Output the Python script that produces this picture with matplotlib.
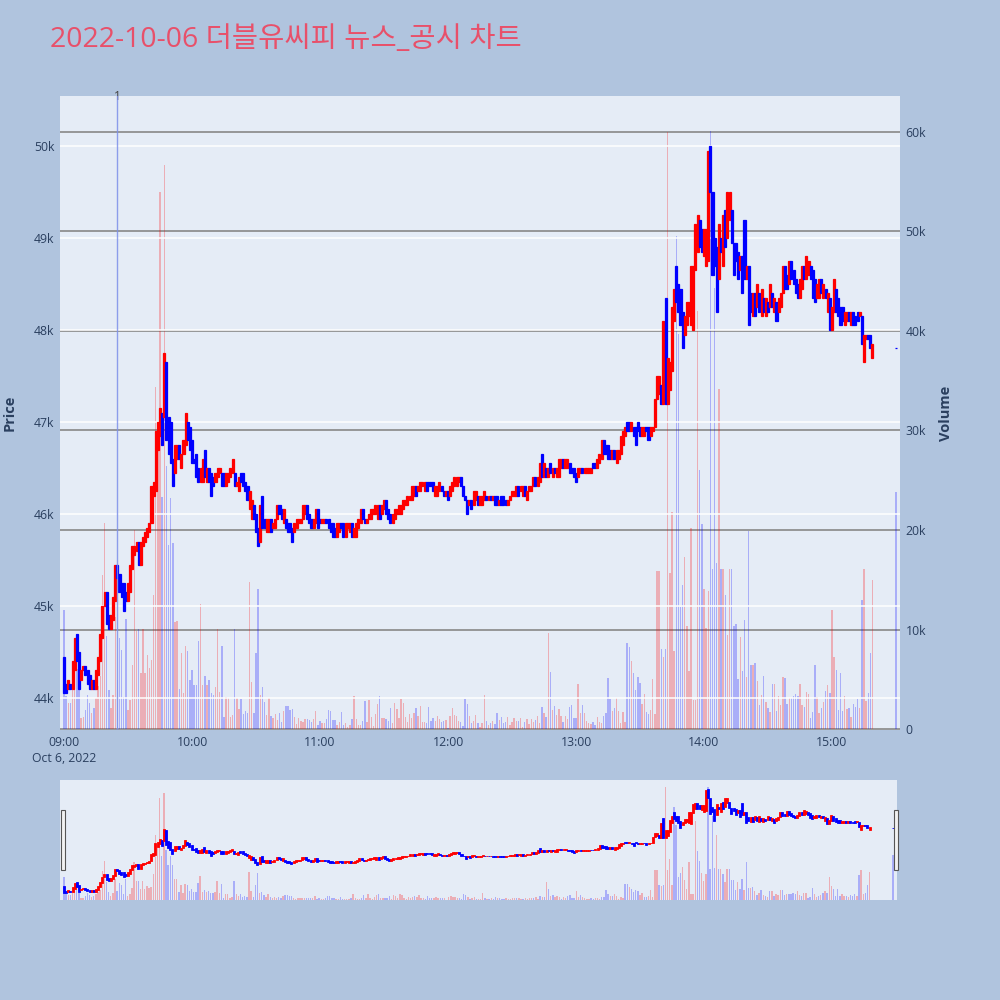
import numpy as np
import matplotlib
matplotlib.use("Agg")
import matplotlib.pyplot as plt
from matplotlib.patches import Rectangle

TITLE = "2022-10-06 더블유씨피 뉴스_공시 차트"

# minutes after 09:00; the last entry is the 15:30 closing auction
minutes = list(range(380)) + [390]

time_ticks = [0, 60, 120, 180, 240, 300, 360]
time_labels = ["09:00\nOct 6, 2022", "10:00", "11:00", "12:00", "13:00", "14:00", "15:00"]
price_ticks = [44000, 45000, 46000, 47000, 48000, 49000, 50000]
price_labels = ["44k", "45k", "46k", "47k", "48k", "49k", "50k"]
volume_ticks = [0, 10000, 20000, 30000, 40000, 50000, 60000]
volume_labels = ["0", "10k", "20k", "30k", "40k", "50k", "60k"]

news_minutes = [25]
news_labels = ["1"]

opens = [
    # 09:00
    44450, 44150, 44100, 44150, 44100, 44300, 44700, 44500, 44200, 44300,
    44350, 44300, 44250, 44100, 44200, 44100, 44250, 44400, 44650, 45000,
    45150, 44900, 44750, 44850, 45050, 45450, 45350, 45250, 45250, 45150,
    45050, 45150, 45400, 45550, 45600, 45700, 45450, 45650, 45700, 45750,
    45800, 45900, 46200, 46250, 46700, 46850, 47100, 47050, 47650, 47050,
    47000, 46600, 46450, 46600, 46750, 46500, 46650, 46750, 47000, 46950,
    # 10:00
    46800, 46600, 46650, 46500, 46350, 46350, 46700, 46350, 46500, 46450,
    46400, 46350, 46400, 46450, 46450, 46450, 46300, 46350, 46400, 46450,
    46450, 46300, 46250, 46450, 46450, 46350, 46300, 46050, 45950, 46100,
    46000, 45850, 45700, 46200, 45950, 45800, 45800, 45950, 45850, 45850,
    45950, 46100, 46050, 45900, 45950, 45900, 45900, 45850, 45800, 45850,
    45900, 45900, 45950, 46000, 46100, 46000, 45950, 45850, 45900, 46050,
    # 11:00
    45950, 45900, 45900, 45950, 45950, 45900, 45900, 45850, 45750, 45800,
    45900, 45900, 45750, 45850, 45800, 45900, 45750, 45750, 45850, 45900,
    46050, 45950, 45900, 45950, 45950, 46000, 46000, 45950, 46100, 46000,
    46050, 46150, 46050, 46000, 45900, 45950, 46000, 46000, 46000, 46050,
    46100, 46100, 46150, 46150, 46200, 46300, 46250, 46250, 46300, 46250,
    46350, 46350, 46350, 46350, 46200, 46200, 46250, 46300, 46250, 46200,
    # 12:00
    46250, 46200, 46250, 46300, 46300, 46350, 46400, 46300, 46200, 46150,
    46100, 46150, 46100, 46150, 46200, 46100, 46100, 46150, 46200, 46150,
    46200, 46150, 46200, 46200, 46100, 46200, 46200, 46150, 46100, 46150,
    46200, 46200, 46200, 46300, 46250, 46200, 46300, 46150, 46250, 46250,
    46300, 46400, 46300, 46350, 46650, 46400, 46500, 46400, 46550, 46400,
    46500, 46400, 46400, 46500, 46600, 46500, 46500, 46550, 46500, 46500,
    # 13:00
    46450, 46400, 46450, 46500, 46450, 46450, 46450, 46450, 46550, 46550,
    46500, 46550, 46600, 46800, 46750, 46750, 46700, 46600, 46700, 46550,
    46600, 46650, 46750, 46850, 47000, 47000, 46900, 46950, 46950, 47000,
    46950, 46850, 46850, 46950, 46950, 46850, 46900, 46950, 47250, 47300,
    47400, 47200, 48350, 47200, 47350, 47550, 48100, 48700, 48500, 48450,
    48200, 47950, 48050, 48150, 48050, 48000, 48650, 48850, 49200, 49100,
    # 14:00
    48800, 48700, 48750, 50000, 49500, 49000, 48900, 48550, 49000, 48700,
    49300, 49000, 49200, 49300, 48950, 48950, 48850, 48650, 48800, 49200,
    48550, 48700, 48400, 48150, 48400, 48250, 48400, 48150, 48350, 48150,
    48300, 48250, 48400, 48200, 48300, 48200, 48250, 48400, 48700, 48600,
    48500, 48750, 48650, 48550, 48500, 48350, 48450, 48700, 48550, 48600,
    48700, 48650, 48550, 48350, 48350, 48550, 48350, 48450, 48200, 48350,
    # 15:00
    48000, 48200, 48450, 48350, 48250, 48250, 48050, 48100, 48200, 48050,
    48200, 48150, 48200, 48150, 48150, 47650, 47900, 47950, 47950, 47700,
    # 15:30 auction
    47800,
]

closes = [
    # 09:00
    44050, 44050, 44200, 44100, 44400, 44650, 44400, 44100, 44300, 44350,
    44250, 44150, 44100, 44200, 44100, 44300, 44450, 44700, 45000, 45150,
    44800, 44750, 44900, 45100, 45450, 45300, 45150, 45100, 44950, 45050,
    45250, 45450, 45650, 45650, 45700, 45450, 45700, 45750, 45800, 45850,
    45900, 46300, 46350, 46900, 47000, 47150, 46750, 47750, 46800, 46650,
    46550, 46300, 46750, 46750, 46600, 46650, 46800, 47100, 46800, 46700,
    # 10:00
    46550, 46550, 46400, 46350, 46500, 46600, 46400, 46500, 46350, 46200,
    46300, 46450, 46500, 46500, 46300, 46300, 46450, 46450, 46500, 46600,
    46300, 46350, 46400, 46350, 46300, 46250, 46150, 46250, 46150, 45950,
    45800, 45650, 46100, 45850, 45850, 45950, 45950, 45800, 45900, 45950,
    46100, 46000, 45950, 46050, 45850, 45800, 45800, 45700, 45900, 45950,
    45950, 45950, 46100, 46100, 45950, 45900, 45850, 45950, 46050, 45850,
    # 11:00
    45900, 45950, 45950, 45900, 45850, 45800, 45750, 45750, 45900, 45900,
    45850, 45750, 45900, 45900, 45900, 45750, 45850, 45900, 45950, 46050,
    45950, 45900, 45950, 46000, 46050, 46050, 46100, 46100, 45950, 46100,
    46150, 46000, 45950, 45900, 46000, 46050, 46050, 46100, 46100, 46150,
    46150, 46200, 46200, 46300, 46300, 46200, 46300, 46350, 46350, 46350,
    46250, 46300, 46300, 46250, 46300, 46300, 46350, 46250, 46200, 46250,
    # 12:00
    46150, 46300, 46350, 46400, 46400, 46400, 46300, 46200, 46150, 46000,
    46150, 46050, 46250, 46250, 46100, 46200, 46200, 46250, 46150, 46200,
    46150, 46200, 46100, 46100, 46150, 46100, 46100, 46100, 46150, 46200,
    46250, 46250, 46300, 46200, 46300, 46300, 46200, 46250, 46300, 46300,
    46400, 46300, 46400, 46550, 46400, 46550, 46400, 46500, 46450, 46500,
    46450, 46500, 46600, 46600, 46500, 46600, 46600, 46450, 46450, 46400,
    # 13:00
    46350, 46500, 46500, 46450, 46500, 46500, 46500, 46500, 46500, 46500,
    46600, 46650, 46800, 46650, 46650, 46600, 46600, 46700, 46600, 46700,
    46700, 46850, 46900, 46950, 46900, 46900, 47000, 46850, 46750, 46900,
    46850, 46950, 46950, 46900, 46800, 46950, 46950, 47250, 47500, 47500,
    47200, 48100, 47200, 47700, 47650, 48250, 48450, 48300, 48200, 48050,
    47800, 48150, 48300, 48300, 48700, 48700, 49150, 49250, 48900, 48850,
    # 14:00
    49100, 49100, 49950, 49500, 48600, 48700, 48200, 49150, 48850, 49250,
    48900, 49500, 49500, 48950, 48600, 48750, 48550, 48800, 48400, 48550,
    48700, 48050, 48200, 48400, 48150, 48500, 48200, 48450, 48200, 48350,
    48200, 48500, 48250, 48350, 48100, 48350, 48400, 48700, 48450, 48450,
    48750, 48550, 48500, 48400, 48350, 48550, 48700, 48550, 48800, 48750,
    48550, 48350, 48300, 48500, 48550, 48400, 48500, 48350, 48400, 48000,
    # 15:00
    48250, 48550, 48200, 48150, 48050, 48100, 48200, 48200, 48100, 48200,
    48050, 48050, 48100, 48200, 47850, 47950, 47950, 47900, 47800, 47850,
    # 15:30 auction
    47800,
]

volumes = [
    # 09:00
    12000, 3300, 2600, 2600, 3900, 4500, 6000, 6300, 1100, 1200,
    1900, 3400, 2600, 1600, 2100, 3100, 4300, 5300, 15500, 20700,
    9300, 3900, 2100, 3400, 11300, 4900, 9100, 7900, 3200, 11100,
    1900, 2900, 6400, 20000, 9800, 10100, 5600, 10100, 5600, 7400,
    6100, 6900, 13500, 34400, 29000, 54000, 23300, 56700, 26400, 18500,
    23200, 18700, 10800, 10900, 4000, 7600, 3600, 8300, 7800, 4900,
    # 10:00
    5900, 4400, 4400, 8800, 12600, 4400, 5300, 4400, 4900, 3600,
    3400, 4200, 10100, 3700, 8300, 1200, 3200, 3100, 1200, 1400,
    10100, 3100, 2000, 3000, 1500, 1800, 1640, 14800, 4760, 1570,
    7600, 14100, 3400, 4250, 2750, 1400, 3100, 1300, 1140, 1500,
    900, 1640, 740, 1840, 2300, 2300, 1900, 2000, 1170, 500,
    1070, 840, 740, 1000, 970, 940, 740, 1040, 1840, 370,
    # 11:00
    800, 640, 640, 1040, 1900, 1780, 900, 870, 400, 670,
    1740, 400, 570, 230, 430, 970, 3350, 970, 400, 400,
    840, 2810, 740, 2900, 1210, 300, 1500, 2480, 3350, 1100,
    1100, 1040, 840, 2140, 570, 2580, 1980, 1070, 2980, 2650,
    1210, 670, 1500, 1070, 1570, 2140, 1300, 2340, 740, 740,
    570, 2170, 800, 1140, 840, 1300, 1040, 740, 840, 870,
    # 12:00
    150, 1340, 2080, 1440, 1340, 840, 740, 300, 3000, 2480,
    1340, 640, 770, 1440, 570, 230, 570, 3420, 800, 400,
    570, 800, 500, 1640, 900, 1210, 570, 670, 1210, 400,
    670, 1070, 800, 800, 1140, 230, 670, 1000, 500, 1000,
    740, 900, 1300, 570, 2250, 1570, 1240, 9680, 5760, 1900,
    2340, 1410, 2010, 1340, 670, 1300, 1000, 2250, 2410, 1070,
    # 13:00
    1140, 4490, 1570, 2410, 1570, 840, 640, 500, 700, 370,
    1170, 740, 640, 1340, 1570, 5090, 3000, 1840, 2140, 3080,
    1840, 640, 1740, 700, 8600, 8200, 6800, 5600, 3900, 5200,
    4600, 2500, 3500, 1700, 1500, 1900, 5000, 1500, 15900, 15900,
    8000, 7200, 8000, 60000, 15700, 21800, 7800, 49500, 39700, 12300,
    14500, 17300, 10400, 5800, 20200, 2900, 2900, 42000, 26000, 20600,
    # 14:00
    14100, 10200, 13900, 60100, 16100, 44300, 16700, 34200, 16100, 16100,
    13500, 9400, 16100, 16100, 10400, 10600, 5000, 9200, 5800, 11000,
    5200, 19900, 6400, 6400, 6600, 4800, 2400, 3400, 5300, 2750,
    2100, 1700, 4490, 4490, 1800, 3300, 2400, 5260, 5130, 2500,
    3080, 3080, 3300, 3480, 3300, 4490, 2400, 2180, 3680, 3520,
    1070, 1740, 6470, 3250, 1600, 2150, 2690, 3820, 4420, 3650,
    # 15:00
    12000, 7270, 5930, 1900, 5600, 1810, 3320, 1980, 2080, 1240,
    2480, 2240, 2980, 2080, 12960, 16050, 2850, 3590, 7670, 14970,
    # 15:30 auction
    23850,
]

UP = "#ff0000"
DOWN = "#0000ff"
PLOT_BG = "#e5ecf6"
PAPER_BG = "#b0c4de"
FONT_COLOR = "#2a3f5f"

X_RANGE = (-1.9, 391.9)
PRICE_RANGE = (43652, 50543)
VOLUME_RANGE = (-100, 63617)


def draw_candles(ax, x, o, c, width, lw):
    colors = np.where(c > o, UP, DOWN)
    ax.bar(x, np.abs(c - o), bottom=np.minimum(o, c), width=width,
           color=colors, edgecolor=colors, linewidth=lw, zorder=3)


def draw_volume(ax, x, o, c, v):
    colors = np.where(c > o, UP, DOWN)
    ax.bar(x, v, width=0.65, color=colors, alpha=0.26, linewidth=0, zorder=2)


def main():
    plt.rcParams["font.family"] = ["Open Sans", "Noto Sans CJK KR", "DejaVu Sans"]
    x = np.array(minutes, dtype=float)
    o = np.array(opens, dtype=float)
    c = np.array(closes, dtype=float)
    v = np.array(volumes, dtype=float)

    fig = plt.figure(figsize=(10, 10), dpi=100)
    fig.patch.set_facecolor(PAPER_BG)

    # main panel: volume underneath, price on a twin axis on top
    ax_v = fig.add_axes([0.06, 0.27, 0.84, 0.634])
    ax_v.set_facecolor(PLOT_BG)
    draw_volume(ax_v, x, o, c, v)
    ax_v.set_xlim(*X_RANGE)
    ax_v.set_ylim(*VOLUME_RANGE)
    ax_v.grid(axis="y", color="#8f8f8f", linewidth=1.3)
    ax_v.set_axisbelow(True)
    ax_v.set_xticks(time_ticks)
    ax_v.set_xticklabels(time_labels, linespacing=1.35)

    ax_p = ax_v.twinx()
    draw_candles(ax_p, x, o, c, 0.95, 0.9)
    ax_p.set_ylim(*PRICE_RANGE)
    ax_p.set_yticks(price_ticks)
    ax_p.set_yticklabels(price_labels)
    ax_p.yaxis.tick_left()
    ax_p.yaxis.set_label_position("left")
    ax_p.grid(axis="y", color="white", linewidth=1.1)
    ax_p.set_axisbelow(True)

    # twinx moves the original ticks to the left, so put volume back on the right
    ax_v.set_yticks(volume_ticks)
    ax_v.set_yticklabels(volume_labels)
    ax_v.yaxis.tick_right()
    ax_v.yaxis.set_label_position("right")

    for nx, label in zip(news_minutes, news_labels):
        ax_p.axvline(nx, color="#7d90ea", linewidth=1.0, alpha=0.85, zorder=4)
        ax_p.annotate(label, xy=(nx, 1.0), xycoords=("data", "axes fraction"),
                      ha="center", va="center", fontsize=8.5, color="#444444")

    for ax in (ax_v, ax_p):
        for spine in ax.spines.values():
            spine.set_visible(False)
        ax.tick_params(length=0, labelsize=8.8, labelcolor=FONT_COLOR, pad=4)

    fig.text(0.010, 0.587, "Price", rotation=90, ha="center", va="center",
             fontsize=10.5, fontweight="bold", color=FONT_COLOR)
    fig.text(0.946, 0.587, "Volume", rotation=90, ha="center", va="center",
             fontsize=10.5, fontweight="bold", color=FONT_COLOR)

    # range slider with a miniature of the whole session
    ax_s = fig.add_axes([0.06, 0.10, 0.837, 0.12])
    ax_s.set_facecolor(PLOT_BG)
    draw_volume(ax_s, x, o, c, v)
    ax_s.set_xlim(*X_RANGE)
    ax_s.set_ylim(*VOLUME_RANGE)
    ax_s2 = ax_s.twinx()
    draw_candles(ax_s2, x, o, c, 0.95, 0.6)
    ax_s2.set_ylim(*PRICE_RANGE)
    for ax in (ax_s, ax_s2):
        ax.set_xticks([])
        ax.set_yticks([])
        for spine in ax.spines.values():
            spine.set_visible(False)
    for hx in (0.0605, 0.8935):
        fig.patches.append(Rectangle((hx, 0.13), 0.004, 0.06, transform=fig.transFigure,
                                     facecolor="#f2f2f2", edgecolor="#555555",
                                     linewidth=0.8, zorder=5))

    fig.text(0.05, 0.96, TITLE, fontsize=20.5, color="#e8506a", va="center", ha="left")

    fig.savefig("out.png", dpi=100, facecolor=fig.get_facecolor())
    plt.close(fig)


if __name__ == "__main__":
    main()
